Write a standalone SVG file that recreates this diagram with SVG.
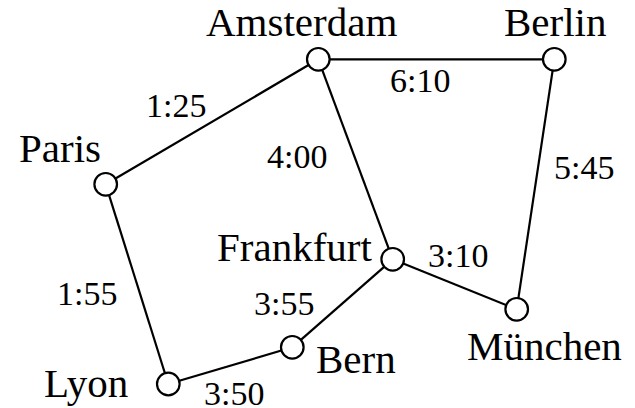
<svg xmlns="http://www.w3.org/2000/svg" width="635" height="408" viewBox="0 0 635 408">
<style>
.e{stroke:#000;stroke-width:2.2;fill:none}
.n{fill:#fff;stroke:#000;stroke-width:2.2}
.c{font-family:"Liberation Serif","Times New Roman",serif;font-size:41px;fill:#000}
.t{font-family:"Liberation Serif","Times New Roman",serif;font-size:34px;fill:#000}
</style>
<rect width="635" height="408" fill="#fff"/>
<g id="connectors">
<line class="e" x1="318.3" y1="59.3" x2="554.3" y2="59.3"/>
<line class="e" x1="318.3" y1="59.3" x2="105.7" y2="184.3"/>
<line class="e" x1="318.3" y1="59.3" x2="392.7" y2="259.3"/>
<line class="e" x1="554.3" y1="59.3" x2="516.7" y2="309.3"/>
<line class="e" x1="105.7" y1="184.3" x2="168.3" y2="384"/>
<line class="e" x1="392.7" y1="259.3" x2="516.7" y2="309.3"/>
<line class="e" x1="392.7" y1="259.3" x2="292.3" y2="347.3"/>
<line class="e" x1="292.3" y1="347.3" x2="168.3" y2="384"/>
<text class="t" x="146" y="117">1:25</text>
<text class="t" x="390" y="92">6:10</text>
<text class="t" x="267" y="168">4:00</text>
<text class="t" x="554" y="179">5:45</text>
<text class="t" x="428" y="267">3:10</text>
<text class="t" x="254" y="315">3:55</text>
<text class="t" x="57" y="305">1:55</text>
<text class="t" x="204" y="404.5">3:50</text>
</g>
<g id="amsterdam"><circle class="n" cx="318.3" cy="59.3" r="11.3"/><text class="c" x="206" y="36">Amsterdam</text></g>
<g id="berlin"><circle class="n" cx="554.3" cy="59.3" r="11.3"/><text class="c" x="504" y="36">Berlin</text></g>
<g id="paris"><circle class="n" cx="105.7" cy="184.3" r="11.3"/><text class="c" x="19" y="162">Paris</text></g>
<g id="frankfurt"><circle class="n" cx="392.7" cy="259.3" r="11.3"/><text class="c" x="217" y="261">Frankfurt</text></g>
<g id="muenchen"><circle class="n" cx="516.7" cy="309.3" r="11.3"/><text class="c" x="467" y="360">München</text></g>
<g id="bern"><circle class="n" cx="292.3" cy="347.3" r="11.3"/><text class="c" x="316" y="373">Bern</text></g>
<g id="lyon"><circle class="n" cx="168.3" cy="384" r="11.3"/><text class="c" x="44" y="397">Lyon</text></g>
</svg>
